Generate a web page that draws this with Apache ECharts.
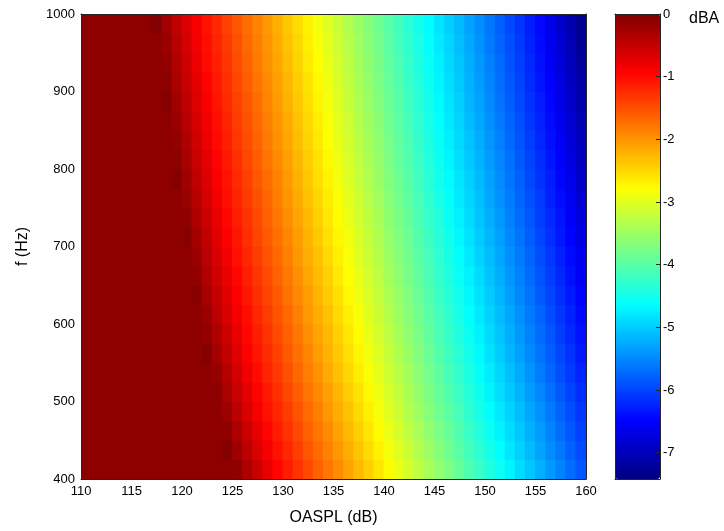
<!DOCTYPE html>
<html>
<head>
<meta charset="utf-8">
<script src="https://cdn.jsdelivr.net/npm/echarts@6/dist/echarts.min.js"></script>
<style>
html,body{margin:0;padding:0;background:#fff;}
#chart{width:724px;height:531px;}
</style>
</head>
<body>
<div id="chart"></div>
<script>
// Cell centres: OASPL (dB, 1 dB wide cells) and frequency rows (Hz, 25 Hz tall cells)
const oaspl = [110.5,111.5,112.5,113.5,114.5,115.5,116.5,117.5,118.5,119.5,
               120.5,121.5,122.5,123.5,124.5,125.5,126.5,127.5,128.5,129.5,
               130.5,131.5,132.5,133.5,134.5,135.5,136.5,137.5,138.5,139.5,
               140.5,141.5,142.5,143.5,144.5,145.5,146.5,147.5,148.5,149.5,
               150.5,151.5,152.5,153.5,154.5,155.5,156.5,157.5,158.5,159.5];
const freq = [412.5,437.5,462.5,487.5,512.5,537.5,562.5,587.5,612.5,637.5,662.5,687.5,
              712.5,737.5,762.5,787.5,812.5,837.5,862.5,887.5,912.5,937.5,962.5,987.5];

// dBA change, one array per frequency row (bottom to top)
const r412 = [-0.1,-0.1,-0.1,-0.1,-0.1,-0.1,-0.1,-0.1,-0.1,-0.1,-0.1,-0.1,-0.1,-0.1,-0.1,-0.11,-0.33,-0.54,-0.76,-0.96,-1.13,-1.29,-1.45,-1.62,-1.78,-1.94,-2.11,-2.27,-2.43,-2.60,-2.76,-2.93,-3.09,-3.25,-3.42,-3.58,-3.74,-3.91,-4.07,-4.23,-4.40,-4.56,-4.72,-4.89,-5.05,-5.21,-5.38,-5.54,-5.70,-5.87];
const r437 = [-0.1,-0.1,-0.1,-0.1,-0.1,-0.1,-0.1,-0.1,-0.1,-0.1,-0.1,-0.1,-0.1,-0.1,-0.03,-0.22,-0.44,-0.65,-0.87,-1.05,-1.21,-1.37,-1.54,-1.70,-1.86,-2.03,-2.19,-2.35,-2.52,-2.68,-2.85,-3.01,-3.17,-3.34,-3.50,-3.66,-3.83,-3.99,-4.15,-4.32,-4.48,-4.64,-4.81,-4.97,-5.13,-5.30,-5.46,-5.62,-5.79,-5.95];
const r462 = [-0.1,-0.1,-0.1,-0.1,-0.1,-0.1,-0.1,-0.1,-0.1,-0.1,-0.1,-0.1,-0.1,-0.1,-0.11,-0.32,-0.54,-0.76,-0.96,-1.13,-1.29,-1.45,-1.62,-1.78,-1.94,-2.11,-2.27,-2.43,-2.60,-2.76,-2.92,-3.09,-3.25,-3.41,-3.58,-3.74,-3.90,-4.07,-4.23,-4.39,-4.56,-4.72,-4.88,-5.05,-5.21,-5.37,-5.54,-5.70,-5.87,-6.03];
const r487 = [-0.1,-0.1,-0.1,-0.1,-0.1,-0.1,-0.1,-0.1,-0.1,-0.1,-0.1,-0.1,-0.1,-0.1,-0.21,-0.42,-0.64,-0.86,-1.04,-1.20,-1.36,-1.53,-1.69,-1.85,-2.02,-2.18,-2.34,-2.51,-2.67,-2.84,-3.00,-3.16,-3.33,-3.49,-3.65,-3.82,-3.98,-4.14,-4.31,-4.47,-4.63,-4.80,-4.96,-5.12,-5.29,-5.45,-5.61,-5.78,-5.94,-6.10];
const r512 = [-0.1,-0.1,-0.1,-0.1,-0.1,-0.1,-0.1,-0.1,-0.1,-0.1,-0.1,-0.1,-0.1,-0.09,-0.30,-0.52,-0.73,-0.95,-1.11,-1.27,-1.44,-1.60,-1.76,-1.93,-2.09,-2.25,-2.42,-2.58,-2.74,-2.91,-3.07,-3.23,-3.40,-3.56,-3.72,-3.89,-4.05,-4.21,-4.38,-4.54,-4.70,-4.87,-5.03,-5.19,-5.36,-5.52,-5.68,-5.85,-6.01,-6.17];
const r537 = [-0.1,-0.1,-0.1,-0.1,-0.1,-0.1,-0.1,-0.1,-0.1,-0.1,-0.1,-0.1,-0.1,-0.17,-0.39,-0.61,-0.82,-1.01,-1.18,-1.34,-1.50,-1.67,-1.83,-1.99,-2.16,-2.32,-2.48,-2.65,-2.81,-2.97,-3.14,-3.30,-3.46,-3.63,-3.79,-3.95,-4.12,-4.28,-4.44,-4.61,-4.77,-4.93,-5.10,-5.26,-5.42,-5.59,-5.75,-5.92,-6.08,-6.24];
const r562 = [-0.1,-0.1,-0.1,-0.1,-0.1,-0.1,-0.1,-0.1,-0.1,-0.1,-0.1,-0.1,-0.04,-0.26,-0.48,-0.69,-0.91,-1.08,-1.24,-1.40,-1.57,-1.73,-1.89,-2.06,-2.22,-2.38,-2.55,-2.71,-2.87,-3.04,-3.20,-3.37,-3.53,-3.69,-3.86,-4.02,-4.18,-4.35,-4.51,-4.67,-4.84,-5.00,-5.16,-5.33,-5.49,-5.65,-5.82,-5.98,-6.14,-6.31];
const r587 = [-0.1,-0.1,-0.1,-0.1,-0.1,-0.1,-0.1,-0.1,-0.1,-0.1,-0.1,-0.1,-0.13,-0.34,-0.56,-0.77,-0.98,-1.14,-1.30,-1.47,-1.63,-1.79,-1.96,-2.12,-2.28,-2.45,-2.61,-2.77,-2.94,-3.10,-3.26,-3.43,-3.59,-3.75,-3.92,-4.08,-4.24,-4.41,-4.57,-4.73,-4.90,-5.06,-5.22,-5.39,-5.55,-5.71,-5.88,-6.04,-6.20,-6.37];
const r612 = [-0.1,-0.1,-0.1,-0.1,-0.1,-0.1,-0.1,-0.1,-0.1,-0.1,-0.1,-0.1,-0.20,-0.42,-0.64,-0.85,-1.03,-1.20,-1.36,-1.53,-1.69,-1.85,-2.02,-2.18,-2.34,-2.51,-2.67,-2.83,-3.00,-3.16,-3.32,-3.49,-3.65,-3.81,-3.98,-4.14,-4.30,-4.47,-4.63,-4.79,-4.96,-5.12,-5.28,-5.45,-5.61,-5.77,-5.94,-6.10,-6.26,-6.43];
const r637 = [-0.1,-0.1,-0.1,-0.1,-0.1,-0.1,-0.1,-0.1,-0.1,-0.1,-0.1,-0.06,-0.28,-0.50,-0.71,-0.93,-1.09,-1.26,-1.42,-1.58,-1.75,-1.91,-2.07,-2.24,-2.40,-2.56,-2.73,-2.89,-3.05,-3.22,-3.38,-3.54,-3.71,-3.87,-4.03,-4.20,-4.36,-4.52,-4.69,-4.85,-5.01,-5.18,-5.34,-5.50,-5.67,-5.83,-5.99,-6.16,-6.32,-6.48];
const r662 = [-0.1,-0.1,-0.1,-0.1,-0.1,-0.1,-0.1,-0.1,-0.1,-0.1,-0.1,-0.13,-0.35,-0.57,-0.78,-0.98,-1.15,-1.31,-1.47,-1.64,-1.80,-1.96,-2.13,-2.29,-2.45,-2.62,-2.78,-2.94,-3.11,-3.27,-3.43,-3.60,-3.76,-3.92,-4.09,-4.25,-4.41,-4.58,-4.74,-4.90,-5.07,-5.23,-5.39,-5.56,-5.72,-5.89,-6.05,-6.21,-6.38,-6.55];
const r687 = [-0.1,-0.1,-0.1,-0.1,-0.1,-0.1,-0.1,-0.1,-0.1,-0.1,-0.1,-0.20,-0.42,-0.64,-0.85,-1.04,-1.20,-1.36,-1.53,-1.69,-1.85,-2.02,-2.18,-2.34,-2.51,-2.67,-2.83,-3.00,-3.16,-3.32,-3.49,-3.65,-3.81,-3.98,-4.14,-4.30,-4.47,-4.63,-4.79,-4.96,-5.12,-5.28,-5.45,-5.61,-5.77,-5.94,-6.10,-6.26,-6.43,-6.62];
const r712 = [-0.1,-0.1,-0.1,-0.1,-0.1,-0.1,-0.1,-0.1,-0.1,-0.1,-0.06,-0.27,-0.49,-0.70,-0.92,-1.09,-1.25,-1.41,-1.58,-1.74,-1.90,-2.07,-2.23,-2.39,-2.56,-2.72,-2.88,-3.05,-3.21,-3.37,-3.54,-3.70,-3.86,-4.03,-4.19,-4.35,-4.52,-4.68,-4.84,-5.01,-5.17,-5.33,-5.50,-5.66,-5.82,-5.99,-6.15,-6.32,-6.48,-6.68];
const r737 = [-0.1,-0.1,-0.1,-0.1,-0.1,-0.1,-0.1,-0.1,-0.1,-0.1,-0.12,-0.34,-0.55,-0.77,-0.97,-1.14,-1.30,-1.46,-1.63,-1.79,-1.95,-2.12,-2.28,-2.44,-2.61,-2.77,-2.93,-3.10,-3.26,-3.42,-3.59,-3.75,-3.91,-4.08,-4.24,-4.40,-4.57,-4.73,-4.89,-5.06,-5.22,-5.38,-5.55,-5.71,-5.87,-6.04,-6.20,-6.36,-6.53,-6.75];
const r762 = [-0.1,-0.1,-0.1,-0.1,-0.1,-0.1,-0.1,-0.1,-0.1,-0.1,-0.18,-0.40,-0.62,-0.83,-1.02,-1.18,-1.35,-1.51,-1.67,-1.84,-2.00,-2.16,-2.33,-2.49,-2.65,-2.82,-2.98,-3.14,-3.31,-3.47,-3.63,-3.80,-3.96,-4.12,-4.29,-4.45,-4.61,-4.78,-4.94,-5.10,-5.27,-5.43,-5.59,-5.76,-5.92,-6.08,-6.25,-6.41,-6.59,-6.81];
const r787 = [-0.1,-0.1,-0.1,-0.1,-0.1,-0.1,-0.1,-0.1,-0.1,-0.03,-0.24,-0.46,-0.68,-0.89,-1.06,-1.23,-1.39,-1.56,-1.72,-1.88,-2.05,-2.21,-2.37,-2.54,-2.70,-2.86,-3.03,-3.19,-3.35,-3.52,-3.68,-3.84,-4.01,-4.17,-4.33,-4.50,-4.66,-4.82,-4.99,-5.15,-5.31,-5.48,-5.64,-5.80,-5.97,-6.13,-6.29,-6.46,-6.65,-6.87];
const r812 = [-0.1,-0.1,-0.1,-0.1,-0.1,-0.1,-0.1,-0.1,-0.1,-0.09,-0.30,-0.52,-0.73,-0.95,-1.11,-1.27,-1.44,-1.60,-1.76,-1.93,-2.09,-2.25,-2.42,-2.58,-2.74,-2.91,-3.07,-3.23,-3.40,-3.56,-3.72,-3.89,-4.05,-4.21,-4.38,-4.54,-4.70,-4.87,-5.03,-5.19,-5.36,-5.52,-5.68,-5.85,-6.01,-6.17,-6.34,-6.50,-6.71,-6.93];
const r837 = [-0.1,-0.1,-0.1,-0.1,-0.1,-0.1,-0.1,-0.1,-0.1,-0.14,-0.36,-0.58,-0.79,-0.99,-1.15,-1.32,-1.48,-1.64,-1.81,-1.97,-2.13,-2.30,-2.46,-2.62,-2.79,-2.95,-3.11,-3.28,-3.44,-3.60,-3.77,-3.93,-4.09,-4.26,-4.42,-4.58,-4.75,-4.91,-5.07,-5.24,-5.40,-5.56,-5.73,-5.89,-6.05,-6.22,-6.38,-6.55,-6.77,-6.98];
const r862 = [-0.1,-0.1,-0.1,-0.1,-0.1,-0.1,-0.1,-0.1,-0.1,-0.20,-0.41,-0.63,-0.85,-1.03,-1.19,-1.36,-1.52,-1.68,-1.85,-2.01,-2.17,-2.34,-2.50,-2.66,-2.83,-2.99,-3.15,-3.32,-3.48,-3.64,-3.81,-3.97,-4.14,-4.30,-4.46,-4.63,-4.79,-4.95,-5.12,-5.28,-5.44,-5.61,-5.77,-5.93,-6.10,-6.26,-6.42,-6.61,-6.82,-7.04];
const r887 = [-0.1,-0.1,-0.1,-0.1,-0.1,-0.1,-0.1,-0.1,-0.04,-0.25,-0.47,-0.68,-0.90,-1.07,-1.23,-1.40,-1.56,-1.72,-1.89,-2.05,-2.21,-2.38,-2.54,-2.71,-2.87,-3.03,-3.20,-3.36,-3.52,-3.69,-3.85,-4.01,-4.18,-4.34,-4.50,-4.67,-4.83,-4.99,-5.16,-5.32,-5.48,-5.65,-5.81,-5.97,-6.14,-6.30,-6.46,-6.66,-6.88,-7.09];
const r912 = [-0.1,-0.1,-0.1,-0.1,-0.1,-0.1,-0.1,-0.1,-0.09,-0.30,-0.52,-0.74,-0.95,-1.11,-1.27,-1.44,-1.60,-1.76,-1.93,-2.09,-2.25,-2.42,-2.58,-2.74,-2.91,-3.07,-3.23,-3.40,-3.56,-3.73,-3.89,-4.05,-4.22,-4.38,-4.54,-4.71,-4.87,-5.03,-5.20,-5.36,-5.52,-5.69,-5.85,-6.01,-6.18,-6.34,-6.50,-6.71,-6.93,-7.14];
const r937 = [-0.1,-0.1,-0.1,-0.1,-0.1,-0.1,-0.1,-0.1,-0.14,-0.35,-0.57,-0.79,-0.99,-1.15,-1.31,-1.48,-1.64,-1.80,-1.97,-2.13,-2.29,-2.46,-2.62,-2.78,-2.95,-3.11,-3.27,-3.44,-3.60,-3.76,-3.93,-4.09,-4.25,-4.42,-4.58,-4.74,-4.91,-5.07,-5.23,-5.40,-5.56,-5.72,-5.89,-6.05,-6.21,-6.38,-6.55,-6.76,-6.98,-7.19];
const r962 = [-0.1,-0.1,-0.1,-0.1,-0.1,-0.1,-0.1,-0.1,-0.19,-0.40,-0.62,-0.84,-1.02,-1.19,-1.35,-1.51,-1.68,-1.84,-2.00,-2.17,-2.33,-2.49,-2.66,-2.82,-2.98,-3.15,-3.31,-3.47,-3.64,-3.80,-3.96,-4.13,-4.29,-4.45,-4.62,-4.78,-4.94,-5.11,-5.27,-5.43,-5.60,-5.76,-5.92,-6.09,-6.25,-6.42,-6.60,-6.81,-7.03,-7.24];
const r987 = [-0.1,-0.1,-0.1,-0.1,-0.1,-0.1,-0.1,-0.02,-0.24,-0.45,-0.67,-0.88,-1.06,-1.22,-1.39,-1.55,-1.71,-1.88,-2.04,-2.20,-2.37,-2.53,-2.69,-2.86,-3.02,-3.18,-3.35,-3.51,-3.67,-3.84,-4.00,-4.16,-4.33,-4.49,-4.65,-4.82,-4.98,-5.14,-5.31,-5.47,-5.63,-5.80,-5.96,-6.12,-6.29,-6.45,-6.65,-6.86,-7.07,-7.29];

const rows = [r412,r437,r462,r487,r512,r537,r562,r587,r612,r637,r662,r687,
              r712,r737,r762,r787,r812,r837,r862,r887,r912,r937,r962,r987];

// Colour bar range and tick labels
const cbarMin = -7.42;
const cbarMax = 0;
const cbarTicks = [0,-1,-2,-3,-4,-5,-6,-7];
const xTickMin = 110, xTickMax = 160, xTickStep = 5;
const yTickMin = 400, yTickMax = 1000, yTickStep = 100;
const cellW = 1, cellH = 25;

// MATLAB "jet" colormap stops (evenly spaced)
const jet = ['#000080','#0000ff','#0080ff','#00ffff','#80ff80','#ffff00','#ff8000','#ff0000','#800000'];

const data = [];
rows.forEach(function (r, j) {
  r.forEach(function (v, i) { data.push([oaspl[i], freq[j], v]); });
});

const FONT = '"Liberation Sans", Arial, sans-serif';
const lineCol = '#262626';
const plain = function (v) { return String(v); };

const chart = echarts.init(document.getElementById('chart'), null, {renderer: 'canvas'});

function frameAxis(extra) {
  return Object.assign({
    axisLine: {show: true, onZero: false, lineStyle: {color: lineCol, width: 1}},
    axisTick: {show: false}, axisLabel: {show: false}, splitLine: {show: false}, z: 10
  }, extra);
}

chart.setOption({
  backgroundColor: '#ffffff',
  animation: false,
  textStyle: {fontFamily: FONT},
  title: {
    text: 'dBA', left: 689, top: 11, padding: 0,
    textStyle: {fontFamily: FONT, fontSize: 16, fontWeight: 'normal', color: '#000'}
  },
  grid: [
    {left: 81, top: 14, width: 505, height: 465},
    {left: 615, top: 14, width: 45, height: 465}
  ],
  xAxis: [
    frameAxis({
      type: 'value', gridIndex: 0, min: xTickMin, max: xTickMax, interval: xTickStep, position: 'bottom',
      name: 'OASPL (dB)', nameLocation: 'middle', nameGap: 31,
      nameTextStyle: {fontFamily: FONT, fontSize: 16, color: '#000'},
      axisLabel: {show: true, fontSize: 13, color: '#000', margin: 6, fontFamily: FONT, formatter: plain}
    }),
    frameAxis({type: 'value', gridIndex: 0, min: xTickMin, max: xTickMax, position: 'top'}),
    frameAxis({type: 'value', gridIndex: 1, min: 0, max: 1, position: 'bottom'}),
    frameAxis({type: 'value', gridIndex: 1, min: 0, max: 1, position: 'top'})
  ],
  yAxis: [
    frameAxis({
      type: 'value', gridIndex: 0, min: yTickMin, max: yTickMax, interval: yTickStep, position: 'left',
      name: 'f (Hz)', nameLocation: 'middle', nameGap: 50, nameRotate: 90,
      nameTextStyle: {fontFamily: FONT, fontSize: 16, color: '#000'},
      axisLabel: {show: true, fontSize: 13, color: '#000', margin: 6, fontFamily: FONT, formatter: plain}
    }),
    frameAxis({type: 'value', gridIndex: 0, min: yTickMin, max: yTickMax, position: 'right'}),
    frameAxis({type: 'value', gridIndex: 1, min: cbarMin, max: cbarMax, position: 'left'}),
    frameAxis({
      type: 'value', gridIndex: 1, min: cbarMin, max: cbarMax, position: 'right',
      axisTick: {show: true, inside: true, length: 4, customValues: cbarTicks, lineStyle: {color: lineCol}},
      axisLabel: {show: true, customValues: cbarTicks, fontSize: 13, color: '#000', margin: 3, fontFamily: FONT, formatter: plain}
    })
  ],
  visualMap: {
    type: 'continuous', min: cbarMin, max: cbarMax, seriesIndex: 0, dimension: 2,
    calculable: false, orient: 'vertical',
    left: 615, top: 14, itemWidth: 45, itemHeight: 465, padding: 0,
    text: null, showLabel: false, hoverLink: false,
    inRange: {color: jet}
  },
  tooltip: {show: false},
  series: [{
    type: 'custom', xAxisIndex: 0, yAxisIndex: 0, clip: true, silent: true,
    data: data,
    encode: {x: 0, y: 1},
    renderItem: function (params, api) {
      const p = api.coord([api.value(0), api.value(1)]);
      const s = api.size([cellW, cellH]);
      return {
        type: 'rect',
        shape: {x: p[0] - s[0] / 2 - 0.5, y: p[1] - s[1] / 2 - 0.5, width: s[0] + 1, height: s[1] + 1},
        style: {fill: api.visual('color'), stroke: null}
      };
    }
  }]
});
</script>
</body>
</html>
